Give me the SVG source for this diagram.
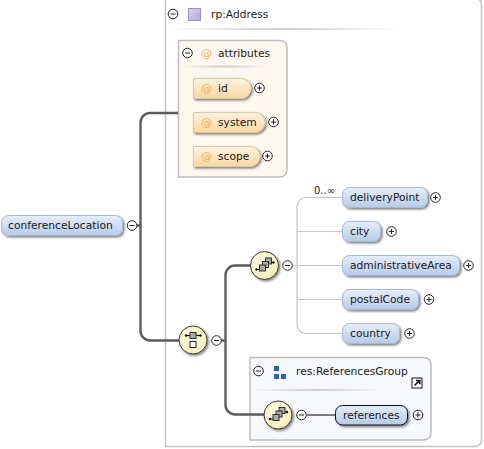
<svg xmlns="http://www.w3.org/2000/svg" width="484" height="449" viewBox="0 0 484 449">
<style>
text{font-family:"DejaVu Sans","Liberation Sans",sans-serif;font-size:10.7px;fill:#1a1a1a}
.el{fill:url(#blue);stroke:#a9b8cc;stroke-width:1;filter:url(#sh)}
.attr{fill:url(#orange);stroke:#d9c9a8;stroke-width:1;filter:url(#sh)}
.at{fill:#eeb052;font-size:11px}
.comp{fill:url(#yellow);stroke:#3a3a3a;stroke-width:1;filter:url(#sh)}
.btn{fill:#fff;stroke:#222;stroke-width:1}
.sign{stroke:#222;stroke-width:1;fill:none}
.thick{fill:none;stroke:#5c5c5c;stroke-width:2.4}
.thin{fill:none;stroke:#c4c4c4;stroke-width:1.2}
.ico{fill:#aaa;stroke:#222;stroke-width:.9}
.icl{stroke:#111;stroke-width:1.2;fill:none}
.sep{fill:url(#fade)}
</style>
<defs>
<linearGradient id="blue" x1="0" y1="0" x2="0" y2="1"><stop offset="0" stop-color="#e6eefa"/><stop offset="1" stop-color="#b6cbea"/></linearGradient>
<linearGradient id="orange" x1="0" y1="0" x2="0" y2="1"><stop offset="0" stop-color="#fdf3e2"/><stop offset="1" stop-color="#fbd6a0"/></linearGradient>
<radialGradient id="yellow" cx=".4" cy=".35" r=".7"><stop offset="0" stop-color="#fdfbe0"/><stop offset="1" stop-color="#f6eeb8"/></radialGradient>
<linearGradient id="purple" x1="0" y1="0" x2="1" y2="1"><stop offset="0" stop-color="#ded6f0"/><stop offset="1" stop-color="#b3a5d8"/></linearGradient>
<linearGradient id="fade" x1="0" y1="0" x2="1" y2="0"><stop offset="0" stop-color="#ccc" stop-opacity="0"/><stop offset=".5" stop-color="#ccc"/><stop offset="1" stop-color="#ccc" stop-opacity="0"/></linearGradient>
<filter id="sh" x="-20%" y="-20%" width="145%" height="145%"><feDropShadow dx="1.500" dy="1.500" stdDeviation="1" flood-color="#000" flood-opacity=".5"/></filter>
<g id="minus"><circle class="btn" r="4.800"/><path class="sign" d="M-2.500 0H2.500"/></g>
<g id="plus"><circle class="btn" r="4.800"/><path class="sign" d="M-2.500 0H2.500M0 -2.500V2.500"/></g>
<g id="choice"><circle class="comp" r="14"/><path class="icl" d="M-8 4H-3M3 -3H9"/><circle cx="-8" cy="4" r="1.200" fill="#111"/><circle cx="9" cy="-3" r="1.200" fill="#111"/><rect class="ico" x="1" y="-7.500" width="6" height="6"/><rect class="ico" x="-2" y="-4" width="6" height="6"/><rect class="ico" x="-5" y="-0.500" width="6" height="6"/></g>
</defs>

<g id="rp-address">
<path d="M165.500 -2H475a6.500 6.500 0 0 1 6.500 6.500V440a6.500 6.500 0 0 1-6.500 6.500H165.500Z" fill="#fff" stroke="#c4c4c4" stroke-width="1.500"/>
<use href="#minus" x="173" y="14"/>
<rect x="188.500" y="8.500" width="12" height="12" fill="url(#purple)" stroke="#9d90c4"/>
<text x="211" y="18">rp:Address</text>
<rect class="sep" x="167" y="28" width="235" height="2"/>
</g>

<g id="attributes">
<path d="M178.500 40.500H280a7 7 0 0 1 7 7V170a7 7 0 0 1-7 7H178.500Z" fill="#fdf8ef" stroke="#bdbdbd" stroke-width="1.500"/>
<use href="#minus" x="187.500" y="53"/>
<text class="at" x="201" y="57">@</text>
<text x="218" y="57">attributes</text>
<rect class="sep" x="182" y="65.500" width="85" height="2"/>
</g>

<g id="references-group">
<path d="M250 357.500H424a7 7 0 0 1 7 7V433a7 7 0 0 1-7 7H250Z" fill="#f6f8fc" stroke="#bdbdbd" stroke-width="1.500"/>
<use href="#minus" x="258.500" y="371"/>
<rect x="274" y="366" width="5" height="5" fill="#2a64ae"/><rect x="274" y="374" width="5" height="5" fill="#2a64ae"/><rect x="281" y="374" width="5" height="5" fill="#2a64ae"/>
<text x="296" y="375">res:ReferencesGroup</text>
<rect x="412" y="378" width="10" height="10" fill="#fff" stroke="#111"/><path d="M414.500 385.500L419.500 380.500M416 380.500H419.800V384.300" fill="none" stroke="#111" stroke-width="1.600"/>
<rect class="sep" x="252" y="389" width="130" height="2"/>
</g>

<g id="connectors">
<path class="thick" d="M137 225.500H140.500M178 113H150a9.500 9.500 0 0 0-9.500 9.500V331a9.500 9.500 0 0 0 9.500 9.500H180"/>
<path class="thick" d="M221 340.500H225.500M251 265.500H235a9.500 9.500 0 0 0-9.500 9.500V405a9.500 9.500 0 0 0 9.500 9.500H265"/>
<path class="thin" d="M293 265.500H343M343 197.500H306a9 9 0 0 0-9 9V324.500a9 9 0 0 0 9 9H343M297 231.500H343M297 299.500H343"/>
<path d="M307 415H335" fill="none" stroke="#5c5c5c" stroke-width="1.600"/>
</g>

<g id="attr-id"><path class="attr" d="M193.500 78.500H241a10 10 0 0 1 10 10a10 10 0 0 1-10 10H193.500Z"/><text class="at" x="201" y="92">@</text><text x="218" y="92">id</text><use href="#plus" x="259.500" y="88"/></g>
<g id="attr-system"><path class="attr" d="M193.500 112.500H255a10 10 0 0 1 10 10a10 10 0 0 1-10 10H193.500Z"/><text class="at" x="201" y="126">@</text><text x="218" y="126">system</text><use href="#plus" x="273.500" y="122"/></g>
<g id="attr-scope"><path class="attr" d="M193.500 146.500H250a10 10 0 0 1 10 10a10 10 0 0 1-10 10H193.500Z"/><text class="at" x="201" y="160">@</text><text x="218" y="160">scope</text><use href="#plus" x="267.500" y="156"/></g>

<g id="conferenceLocation"><rect class="el" x="1.500" y="215.500" width="121" height="20" rx="7"/><text x="8" y="229">conferenceLocation</text><use href="#minus" x="132" y="225.500"/></g>

<g id="sequence"><circle class="comp" cx="193" cy="340" r="14"/><path class="icl" d="M186 335.500H200"/><circle cx="186" cy="335.500" r="1.200" fill="#111"/><circle cx="200.500" cy="335.500" r="1.200" fill="#111"/><rect class="ico" x="190" y="332.500" width="6" height="6"/><rect x="190" y="341.500" width="6" height="6" fill="#fff" stroke="#222"/><use href="#minus" x="216.500" y="340.500"/></g>

<g id="choice1"><use href="#choice" x="264.500" y="265.500"/><use href="#minus" x="287.500" y="265.500"/></g>

<g id="deliveryPoint"><rect class="el" x="342.500" y="187.500" width="85" height="20" rx="7"/><text x="350" y="201">deliveryPoint</text><text x="314" y="194" style="font-size:10px">0..∞</text><use href="#plus" x="435.500" y="197.500"/></g>
<g id="city"><rect class="el" x="342.500" y="221.500" width="38" height="20" rx="7"/><text x="350" y="235">city</text><use href="#plus" x="391.500" y="231.500"/></g>
<g id="administrativeArea"><rect class="el" x="342.500" y="255.500" width="117" height="20" rx="7"/><text x="350" y="269">administrativeArea</text><use href="#plus" x="468.500" y="265.500"/></g>
<g id="postalCode"><rect class="el" x="342.500" y="289.500" width="76" height="20" rx="7"/><text x="350" y="303">postalCode</text><use href="#plus" x="429" y="299.500"/></g>
<g id="country"><rect class="el" x="342.500" y="323.500" width="57" height="20" rx="7"/><text x="350" y="337">country</text><use href="#plus" x="409.500" y="333.500"/></g>

<g id="choice2"><use href="#choice" x="278" y="415"/><use href="#minus" x="301.500" y="415"/></g>
<g id="references"><rect x="335.500" y="405.500" width="72" height="19.500" rx="7" fill="url(#blue)" stroke="#111" filter="url(#sh)"/><text x="343" y="419">references</text><use href="#plus" x="418" y="415"/></g>
</svg>
